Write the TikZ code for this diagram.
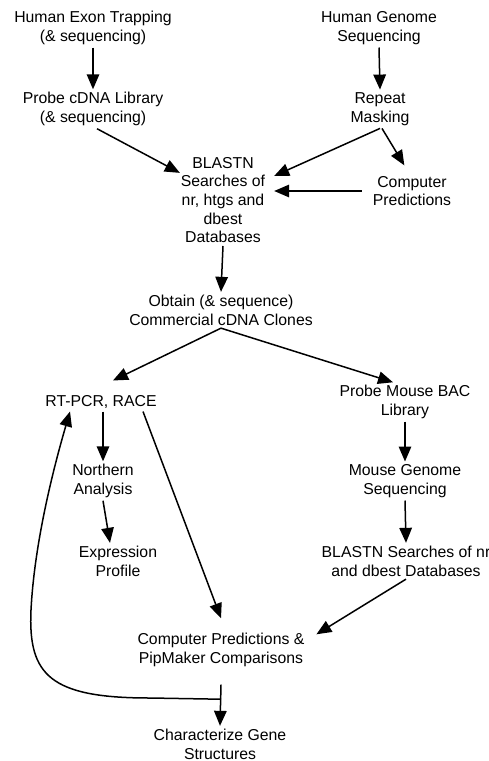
\documentclass[tikz,border=0pt]{standalone}
\usepackage{fontspec}
\setmainfont{Liberation Sans}
\usetikzlibrary{arrows.meta,calc}
\begin{document}
\begin{tikzpicture}[x=1pt,y=-1pt,
  lbl/.style={align=center,inner sep=3pt,outer sep=0pt,font=\fontsize{15.8}{18.7}\selectfont},
  arr/.style={-{Triangle[length=15pt,width=12.5pt]},line width=1.5pt}]
\useasboundingbox[fill=white] (0,0) rectangle (489,761);
% nodes
\node[lbl] (htrap)  at (93,28)   {Human Exon Trapping\\(\& sequencing)};
\node[lbl] (hgen)   at (379,28)  {Human Genome\\Sequencing};
\node[lbl] (probe)  at (93,109)  {Probe cDNA Library\\(\& sequencing)};
\node[lbl] (repeat) at (380,109) {Repeat\\Masking};
\node[lbl] (blastn) at (223,200) {BLASTN\\Searches of\\nr, htgs and\\dbest\\Databases};
\node[lbl] (comp)   at (412,191) {Computer\\Predictions};
\node[lbl] (obtain) at (221,310) {Obtain (\& sequence)\\Commercial cDNA Clones};
\node[lbl] (rtpcr)  at (101,402) {RT-PCR, RACE};
\node[lbl] (mbac)   at (405,402) {Probe Mouse BAC\\Library};
\node[lbl] (north)  at (103,481) {Northern\\Analysis};
\node[lbl] (mgen)   at (405,481) {Mouse Genome\\Sequencing};
\node[lbl] (expr)   at (118,561) {Expression\\Profile};
\node[lbl] (blast2) at (406,561) {BLASTN Searches of nr\\and dbest Databases};
\node[lbl] (cpp)    at (221,650) {Computer Predictions \&\\PipMaker Comparisons};
\node[lbl] (char)   at (220,744) {Characterize Gene\\Structures};
% connectors
\draw[arr] (htrap.south) -- (probe.north);
\draw[arr] (hgen.south) -- (repeat.north);
\draw[arr] ([xshift=4pt]probe.south) -- ([xshift=2pt]blastn.149);
\draw[arr] (repeat.south) -- ([xshift=6pt]blastn.28);
\draw[arr,shorten >=9pt] ([xshift=2pt]repeat.south) -- ([xshift=-3pt]comp.north);
\draw[arr] ([xshift=-8pt]comp.west) -- ([xshift=6pt]comp.west -| blastn.east);
\draw[arr] (blastn.south) -- (obtain.north);
\draw[arr] (obtain.south) -- ($(rtpcr.north)+(12,-12)$);
\draw[arr] (obtain.south) -- ([xshift=-12pt]mbac.north);
\draw[arr] (mbac.south) -- (mgen.north);
\draw[arr] (north.north |- rtpcr.south) -- (north.north);
\draw[arr] (north.south) -- ([xshift=-8pt]expr.north);
\draw[arr] ([xshift=42pt]rtpcr.south) -- ([yshift=12pt]cpp.north);
\draw[arr] (mgen.south) -- (blast2.north);
\draw[arr] (blast2.south) -- ([xshift=9pt,yshift=-4pt]cpp.north east);
\draw[arr] ([yshift=-15pt]cpp.south) -- (char.north);
\coordinate (j) at ($(cpp.south)+(0,29.5)$);
\draw[arr] (j) -- (150,698) .. controls (50,698) and (28,675) .. (31,610)
  .. controls (34,550) and (50,480) .. ([xshift=-31pt]rtpcr.south);
\end{tikzpicture}
\end{document}
